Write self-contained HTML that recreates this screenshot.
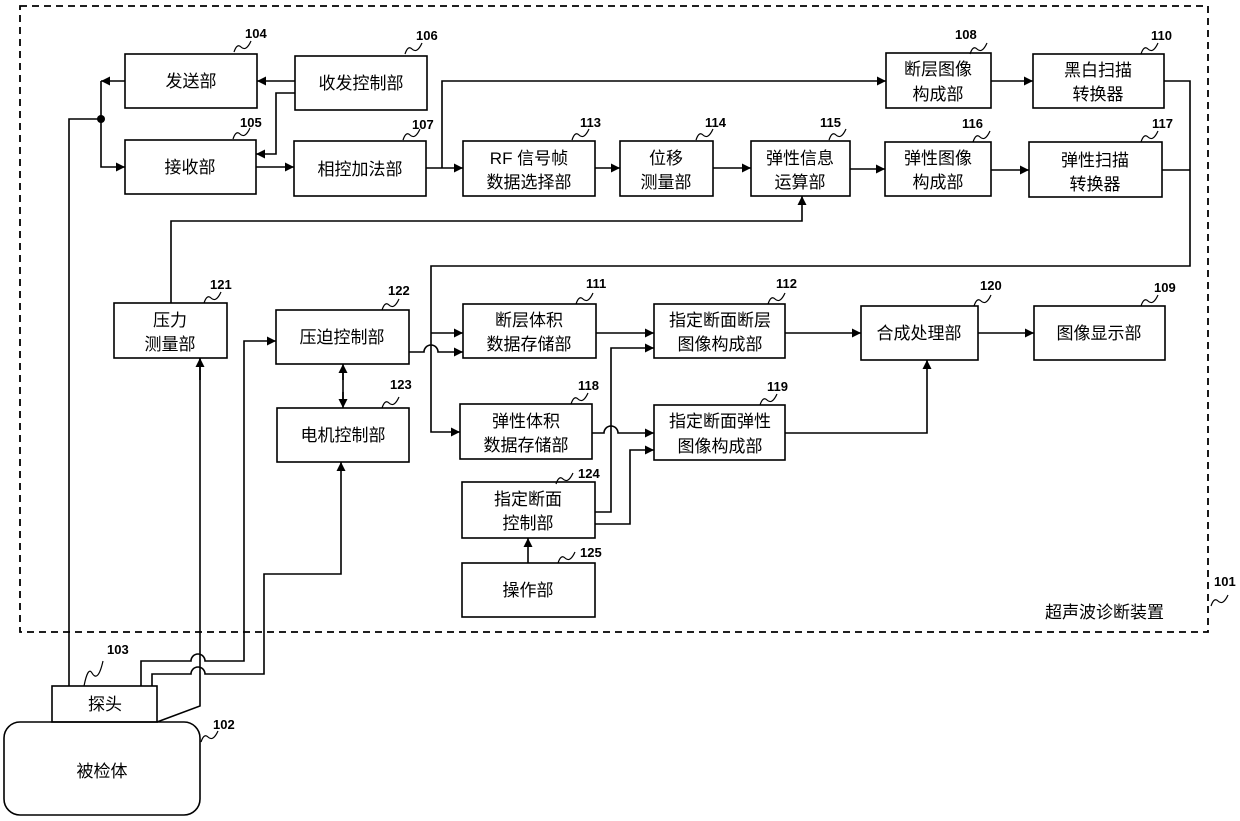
<!DOCTYPE html>
<html><head><meta charset="utf-8"><style>
html,body{margin:0;padding:0;background:#fff;}
svg{display:block;}
text{font-family:"Liberation Sans","Noto Sans CJK SC",sans-serif;fill:#000;}
.t{font-size:17px;text-anchor:middle;}
.n{font-size:13px;font-weight:bold;}
</style></head><body>
<svg width="1240" height="821" viewBox="0 0 1240 821" xmlns="http://www.w3.org/2000/svg">
<defs>
<marker id="a" viewBox="0 0 10 10" refX="10" refY="5" markerWidth="9" markerHeight="9" orient="auto" markerUnits="userSpaceOnUse"><path d="M0,0 L10,5 L0,10 z" fill="#000"/></marker>
</defs>
<g fill="none" stroke="#000" stroke-width="1.6">
<rect x="20" y="6" width="1188" height="626" stroke-dasharray="7,5" stroke-width="1.8"/>
<!-- boxes -->
<rect x="125" y="54" width="132" height="54"/>
<rect x="295" y="56" width="132" height="54"/>
<rect x="125" y="140" width="131" height="54"/>
<rect x="294" y="141" width="132" height="55"/>
<rect x="463" y="141" width="132" height="55"/>
<rect x="620" y="141" width="93" height="55"/>
<rect x="751" y="141" width="99" height="55"/>
<rect x="885" y="142" width="106" height="54"/>
<rect x="1029" y="142" width="133" height="55"/>
<rect x="886" y="53" width="105" height="55"/>
<rect x="1033" y="54" width="131" height="54"/>
<rect x="114" y="303" width="113" height="55"/>
<rect x="276" y="310" width="133" height="54"/>
<rect x="277" y="408" width="132" height="54"/>
<rect x="463" y="304" width="133" height="54"/>
<rect x="460" y="404" width="132" height="55"/>
<rect x="462" y="482" width="133" height="56"/>
<rect x="462" y="563" width="133" height="54"/>
<rect x="654" y="304" width="131" height="54"/>
<rect x="654" y="405" width="131" height="55"/>
<rect x="861" y="306" width="117" height="54"/>
<rect x="1034" y="306" width="131" height="54"/>
<rect x="52" y="686" width="105" height="36"/>
<rect x="4" y="722" width="196" height="93" rx="16"/>
<!-- connectors top -->
<path d="M295,81 H257" marker-end="url(#a)"/>
<path d="M295,93 H276 V154 H256" marker-end="url(#a)"/>
<path d="M125,81 H101" marker-end="url(#a)"/>
<path d="M101,81 V167 H125" marker-end="url(#a)"/>
<path d="M101,119 H69 V686"/>
<path d="M256,167 H294" marker-end="url(#a)"/>
<path d="M426,168 H463" marker-end="url(#a)"/>
<path d="M442,168 V81 H886" marker-end="url(#a)"/>
<path d="M595,168 H620" marker-end="url(#a)"/>
<path d="M713,168 H751" marker-end="url(#a)"/>
<path d="M850,169 H885" marker-end="url(#a)"/>
<path d="M991,170 H1029" marker-end="url(#a)"/>
<path d="M991,81 H1033" marker-end="url(#a)"/>
<path d="M1164,81 H1190 V266 H431 V432 H460" marker-end="url(#a)"/>
<path d="M1162,170 H1190"/>
<path d="M431,333 H463" marker-end="url(#a)"/>
<path d="M171,303 V221 H802 V196" marker-end="url(#a)"/>
<!-- 压迫 -->
<path d="M409,352 H424 A7,7 0 0 1 438,352 H463" marker-end="url(#a)"/>
<path d="M343,372 V400" />
<path d="M343,380 V364" marker-end="url(#a)"/>
<path d="M343,392 V408" marker-end="url(#a)"/>
<!-- probe lines -->
<path d="M200,358 V706 L157,722" />
<path d="M200,380 V358" marker-end="url(#a)"/>
<path d="M141,686 V661 H191 A7,7 0 0 1 205,661 H244 V341 H276" marker-end="url(#a)"/>
<path d="M152,686 V674 H191 A7,7 0 0 1 205,674 H264 V574 H341 V462" marker-end="url(#a)"/>
<!-- lower right -->
<path d="M596,333 H654" marker-end="url(#a)"/>
<path d="M592,433 H604 A7,7 0 0 1 618,433 H654" marker-end="url(#a)"/>
<path d="M595,512 H611 V348 H654" marker-end="url(#a)"/>
<path d="M595,524 H630 V450 H654" marker-end="url(#a)"/>
<path d="M528,563 V538" marker-end="url(#a)"/>
<path d="M785,333 H861" marker-end="url(#a)"/>
<path d="M785,433 H927 V360" marker-end="url(#a)"/>
<path d="M978,333 H1034" marker-end="url(#a)"/>
<!-- tildes -->
<g stroke-width="1.2">
<path d="M234,52 q3,-9 7,-5 q5,5 10,-6"/>
<path d="M405,54 q3,-9 7,-5 q5,5 10,-6"/>
<path d="M233,139 q3,-9 7,-5 q5,5 10,-6"/>
<path d="M403,140 q3,-9 7,-5 q5,5 10,-6"/>
<path d="M572,140 q3,-9 7,-5 q5,5 10,-6"/>
<path d="M696,140 q3,-9 7,-5 q5,5 10,-6"/>
<path d="M829,140 q3,-9 7,-5 q5,5 10,-6"/>
<path d="M973,142 q3,-9 7,-5 q5,5 10,-6"/>
<path d="M1141,142 q3,-9 7,-5 q5,5 10,-6"/>
<path d="M970,54 q3,-9 7,-5 q5,5 10,-6"/>
<path d="M1141,54 q3,-9 7,-5 q5,5 10,-6"/>
<path d="M204,303 q3,-9 7,-5 q5,5 10,-6"/>
<path d="M382,310 q3,-9 7,-5 q5,5 10,-6"/>
<path d="M382,408 q3,-9 7,-5 q5,5 10,-6"/>
<path d="M576,304 q3,-9 7,-5 q5,5 10,-6"/>
<path d="M768,304 q3,-9 7,-5 q5,5 10,-6"/>
<path d="M974,306 q3,-9 7,-5 q5,5 10,-6"/>
<path d="M1141,306 q3,-9 7,-5 q5,5 10,-6"/>
<path d="M571,404 q3,-9 7,-5 q5,5 10,-6"/>
<path d="M760,405 q3,-9 7,-5 q5,5 10,-6"/>
<path d="M556,484 q3,-9 7,-5 q5,5 10,-6"/>
<path d="M558,563 q3,-9 7,-5 q5,5 10,-6"/>
<path d="M84,686 q4,-20 8,-13 q6,10 11,-12"/>
<path d="M201,742 q3,-9 7,-5 q5,5 10,-6"/>
<path d="M1211,606 q3,-9 7,-5 q5,5 10,-6"/>
</g>
</g>
<circle cx="101" cy="119" r="4" fill="#000"/>
<!-- box text -->
<text class="t" x="191" y="87">发送部</text>
<text class="t" x="361" y="89">收发控制部</text>
<text class="t" x="190" y="173">接收部</text>
<text class="t" x="360" y="175">相控加法部</text>
<text class="t" x="529" y="164">RF 信号帧</text><text class="t" x="529" y="188">数据选择部</text>
<text class="t" x="666" y="164">位移</text><text class="t" x="666" y="188">测量部</text>
<text class="t" x="800" y="164">弹性信息</text><text class="t" x="800" y="188">运算部</text>
<text class="t" x="938" y="164">弹性图像</text><text class="t" x="938" y="188">构成部</text>
<text class="t" x="1095" y="166">弹性扫描</text><text class="t" x="1095" y="190">转换器</text>
<text class="t" x="938" y="75">断层图像</text><text class="t" x="938" y="100">构成部</text>
<text class="t" x="1098" y="76">黑白扫描</text><text class="t" x="1098" y="100">转换器</text>
<text class="t" x="170" y="326">压力</text><text class="t" x="170" y="350">测量部</text>
<text class="t" x="342" y="343">压迫控制部</text>
<text class="t" x="343" y="441">电机控制部</text>
<text class="t" x="529" y="326">断层体积</text><text class="t" x="529" y="350">数据存储部</text>
<text class="t" x="526" y="427">弹性体积</text><text class="t" x="526" y="451">数据存储部</text>
<text class="t" x="528" y="505">指定断面</text><text class="t" x="528" y="529">控制部</text>
<text class="t" x="528" y="596">操作部</text>
<text class="t" x="720" y="326">指定断面断层</text><text class="t" x="720" y="350">图像构成部</text>
<text class="t" x="720" y="427">指定断面弹性</text><text class="t" x="720" y="452">图像构成部</text>
<text class="t" x="919" y="339">合成处理部</text>
<text class="t" x="1099" y="339">图像显示部</text>
<text class="t" x="105" y="710">探头</text>
<text class="t" x="102" y="777">被检体</text>
<text x="1045" y="618" style="font-size:17px">超声波诊断装置</text>
<!-- numbers -->
<text class="n" x="245" y="38">104</text>
<text class="n" x="416" y="40">106</text>
<text class="n" x="240" y="127">105</text>
<text class="n" x="412" y="129">107</text>
<text class="n" x="580" y="127">113</text>
<text class="n" x="705" y="127">114</text>
<text class="n" x="820" y="127">115</text>
<text class="n" x="962" y="128">116</text>
<text class="n" x="1152" y="128">117</text>
<text class="n" x="955" y="39">108</text>
<text class="n" x="1151" y="40">110</text>
<text class="n" x="210" y="289">121</text>
<text class="n" x="388" y="295">122</text>
<text class="n" x="390" y="389">123</text>
<text class="n" x="586" y="288">111</text>
<text class="n" x="776" y="288">112</text>
<text class="n" x="980" y="290">120</text>
<text class="n" x="1154" y="292">109</text>
<text class="n" x="578" y="390">118</text>
<text class="n" x="767" y="391">119</text>
<text class="n" x="578" y="478">124</text>
<text class="n" x="580" y="557">125</text>
<text class="n" x="107" y="654">103</text>
<text class="n" x="213" y="729">102</text>
<text class="n" x="1214" y="586">101</text>
</svg>
</body></html>
